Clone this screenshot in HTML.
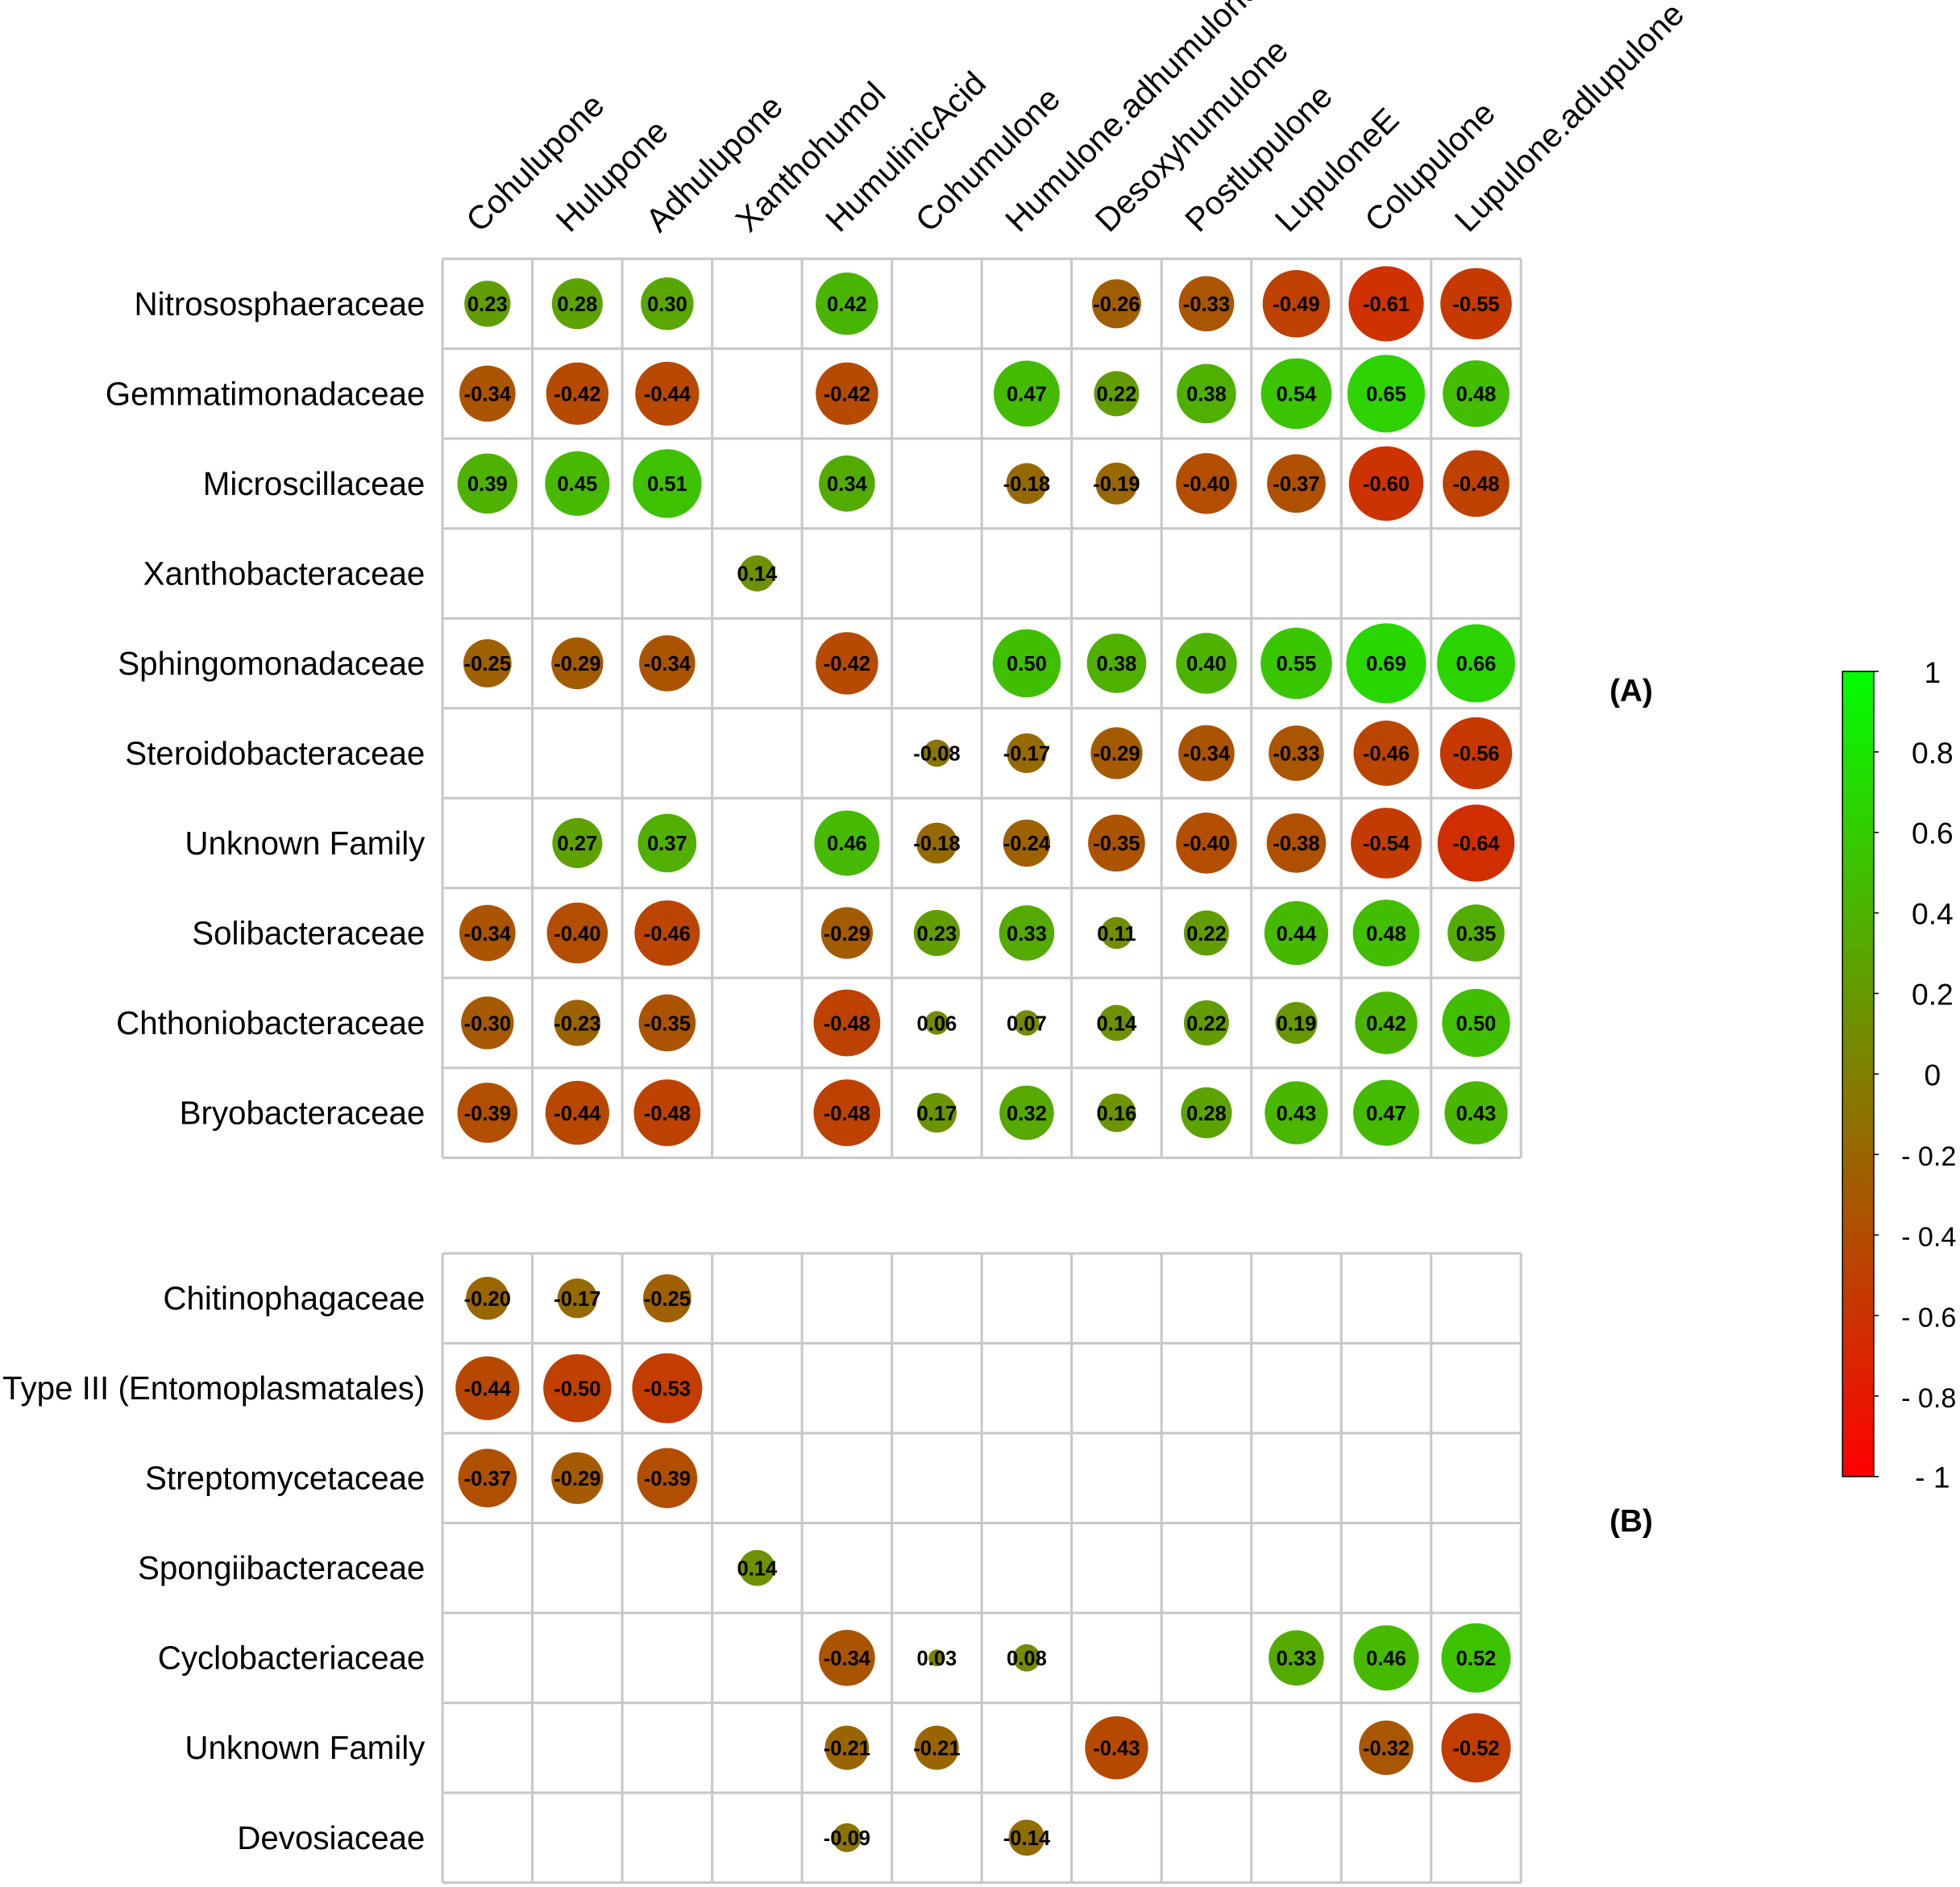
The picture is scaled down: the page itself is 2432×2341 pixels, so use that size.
<!DOCTYPE html>
<html><head><meta charset="utf-8"><style>html,body{margin:0;padding:0;background:#fff}svg{display:block}</style></head>
<body>
<svg id="chart" xmlns="http://www.w3.org/2000/svg" width="2432" height="2341" viewBox="0 0 1568 1509.3" preserveAspectRatio="none" font-family="Liberation Sans, Arial, sans-serif">
<rect width="1568" height="1510" fill="#fff"/>
<g id="g"></g>
</svg>
<script>
const columns=["Cohulupone","Hulupone","Adhulupone","Xanthohumol","HumulinicAcid","Cohumulone","Humulone.adhumulone","Desoxyhumulone","Postlupulone","LupuloneE","Colupulone","Lupulone.adlupulone"];
const rowsA=["Nitrososphaeraceae","Gemmatimonadaceae","Microscillaceae","Xanthobacteraceae","Sphingomonadaceae","Steroidobacteraceae","Unknown Family","Solibacteraceae","Chthoniobacteraceae","Bryobacteraceae"];
const valuesA=[
[.23,.28,.30,null,.42,null,null,-.26,-.33,-.49,-.61,-.55],
[-.34,-.42,-.44,null,-.42,null,.47,.22,.38,.54,.65,.48],
[.39,.45,.51,null,.34,null,-.18,-.19,-.40,-.37,-.60,-.48],
[null,null,null,.14,null,null,null,null,null,null,null,null],
[-.25,-.29,-.34,null,-.42,null,.50,.38,.40,.55,.69,.66],
[null,null,null,null,null,-.08,-.17,-.29,-.34,-.33,-.46,-.56],
[null,.27,.37,null,.46,-.18,-.24,-.35,-.40,-.38,-.54,-.64],
[-.34,-.40,-.46,null,-.29,.23,.33,.11,.22,.44,.48,.35],
[-.30,-.23,-.35,null,-.48,.06,.07,.14,.22,.19,.42,.50],
[-.39,-.44,-.48,null,-.48,.17,.32,.16,.28,.43,.47,.43]];
const rowsB=["Chitinophagaceae","Type III (Entomoplasmatales)","Streptomycetaceae","Spongiibacteraceae","Cyclobacteriaceae","Unknown Family","Devosiaceae"];
const valuesB=[
[-.20,-.17,-.25,null,null,null,null,null,null,null,null,null],
[-.44,-.50,-.53,null,null,null,null,null,null,null,null,null],
[-.37,-.29,-.39,null,null,null,null,null,null,null,null,null],
[null,null,null,.14,null,null,null,null,null,null,null,null],
[null,null,null,null,-.34,.03,.08,null,null,.33,.46,.52],
[null,null,null,null,-.21,-.21,null,-.43,null,null,-.32,-.52],
[null,null,null,null,-.09,null,-.14,null,null,null,null,null]];
const cbTicks=[1,0.8,0.6,0.4,0.2,0,-0.2,-0.4,-0.6,-0.8,-1];
const cbLabels=["1","0.8","0.6","0.4","0.2","0","- 0.2","- 0.4","- 0.6","- 0.8","- 1"];

const NS="http://www.w3.org/2000/svg";
const g=document.getElementById('g');
function el(t,a,txt){const e=document.createElementNS(NS,t);for(const k in a)e.setAttribute(k,a[k]);if(txt!==undefined)e.textContent=txt;g.appendChild(e);return e;}
const X0=354,CW=71.9;
const xCenter=i=>X0+CW*(i+0.5);
function color(r){const t=(r+1)/2;return `rgb(${Math.round(255*(1-t))},${Math.round(255*t)},0)`;}
const rad=r=>38.5*Math.sqrt(Math.abs(r));

function panel(rows,vals,Y0,tag){
  const n=rows.length,W=CW*12,H=CW*n;
  for(let i=0;i<=12;i++){const l=el('line',{x1:X0+CW*i,x2:X0+CW*i,y1:Y0,y2:Y0+H,stroke:'#c8c8c8','stroke-width':2});
    }
  for(let j=0;j<=n;j++){const l=el('line',{x1:X0,x2:X0+W,y1:Y0+CW*j,y2:Y0+CW*j,stroke:'#c8c8c8','stroke-width':2});
    }
  rows.forEach((name,j)=>{
    const cy=Y0+CW*(j+0.5);
    const t=el('text',{x:340,y:cy+9,'text-anchor':'end','font-size':26,fill:'#000'},name);
    
    vals[j].forEach((v,i)=>{
      if(v===null)return;
      const c=el('circle',{cx:xCenter(i),cy:cy,r:rad(v),fill:color(v)});
      
      const s=(v<0?'-':'')+Math.abs(v).toFixed(2);
      const tx=el('text',{x:xCenter(i),y:cy+6,'text-anchor':'middle','font-size':16.5,'font-weight':'bold',fill:'#000'},s);
      
    });
  });
}
panel(rowsA,valuesA,207,'panel-a');
panel(rowsB,valuesB,1002.5,'panel-b');

columns.forEach((c,i)=>{
  const x=xCenter(i)-6,y=187;
  const t=el('text',{x:x,y:y,'font-size':26.5,fill:'#000',transform:`rotate(-45 ${x} ${y})`},c);
  
});

const defs=el('defs',{});
const lg=document.createElementNS(NS,'linearGradient');
lg.setAttribute('id','cb');lg.setAttribute('x1',0);lg.setAttribute('y1',0);lg.setAttribute('x2',0);lg.setAttribute('y2',1);
[[0,'#00ff00'],[1,'#ff0000']].forEach(([o,c])=>{const s=document.createElementNS(NS,'stop');s.setAttribute('offset',o);s.setAttribute('stop-color',c);lg.appendChild(s);});
defs.appendChild(lg);
const CBT=537,CBB=1181,CBX=1474,CBW=25;
const cbY=v=>CBT+(1-v)/2*(CBB-CBT);
const cb=el('rect',{x:CBX,y:CBT,width:CBW,height:CBB-CBT,fill:'url(#cb)',stroke:'#000','stroke-width':1});

cbTicks.forEach((v,k)=>{
  const tk=el('line',{x1:CBX+CBW,x2:CBX+CBW+4,y1:cbY(v),y2:cbY(v),stroke:'#000','stroke-width':1});
  
  const neg=cbLabels[k].length>3;
  const t=el('text',{x:neg?1565:1546,y:cbY(v)+9,'text-anchor':neg?'end':'middle','font-size':neg?22:24,fill:'#000'},cbLabels[k]);
  
});
const a=el('text',{x:1305,y:561,'text-anchor':'middle','font-size':25,'font-weight':'bold',fill:'#000'},'(A)');

const b=el('text',{x:1305,y:1225,'text-anchor':'middle','font-size':25,'font-weight':'bold',fill:'#000'},'(B)');

</script>
</body></html>
